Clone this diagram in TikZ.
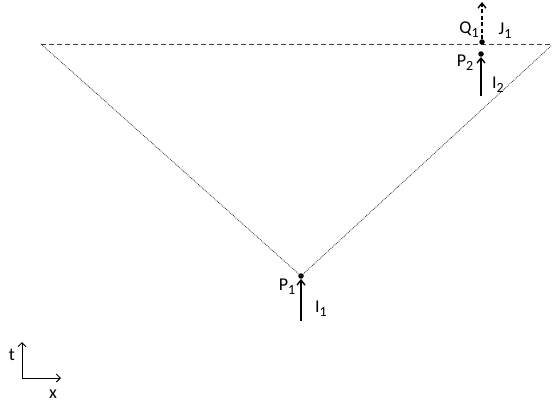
\documentclass[tikz,border=0pt]{standalone}
\usepackage{fontspec}
\setmainfont{Carlito}
\usetikzlibrary{arrows.meta,positioning}
\newcommand{\lowidx}[1]{\raisebox{-0.45ex}{\fontsize{14}{16}\selectfont #1}}

\begin{document}
\begin{tikzpicture}[
    x=1pt, y=-1pt,
    dot/.style={circle, fill=black, inner sep=0pt, minimum size=5.5pt},
    lbl/.style={font=\fontsize{18}{21}\selectfont, inner sep=0pt},
    arrow/.style={-{Straight Barb[length=5pt, width=8pt]}, line width=1.4pt},
    cone/.style={densely dotted, line width=0.8pt, black!80},
    horizon/.style={dashed, line width=0.8pt, black!75, dash pattern=on 5pt off 3pt},
]
    \useasboundingbox (0,0) rectangle (553,404);

    % light cone and horizontal line
    \coordinate (hl) at (41,44);
    \coordinate (hr) at (553,44);
    \coordinate (cr) at (551,46);
    \node[dot] (p1) at (301,276) {};
    \draw[horizon] (hl) -- (hr);
    \draw[cone] (hl) -- (p1.center) -- (cr);

    % lower point with incoming arrow
    \coordinate (i1) at (301,321);
    \draw[arrow] (i1) -- (p1);
    \node[lbl] (p1l) at (287,287) {P\lowidx{1}};
    \node[lbl] (i1l) at (321,309) {I\lowidx{1}};

    % upper points
    \node[dot] (p2) at (481,54) {};
    \node[dot] (q1) at (482,42) {};
    \coordinate (i2) at (481,96);
    \coordinate (j1) at (482,2);
    \draw[arrow] (i2) -- (p2);
    \draw[arrow, dashed, dash pattern=on 4pt off 2.5pt] (q1) -- (j1);
    \node[lbl] (q1l) at (469,30) {Q\lowidx{1}};
    \node[lbl] (j1l) at (505,31) {J\lowidx{1}};
    \node[lbl] (p2l) at (465,63) {P\lowidx{2}};
    \node[lbl] (i2l) at (498,85) {I\lowidx{2}};

    % axes
    \coordinate (o) at (22,378);
    \coordinate (ta) at (22,342);
    \coordinate (xa) at (61,378);
    \draw[-{Straight Barb[length=4pt, width=8pt]}, line width=1pt] (o) -- (ta);
    \draw[-{Straight Barb[length=4pt, width=8pt]}, line width=1pt] (o) -- (xa);
    \node[lbl] (tl) at (12,355) {t};
    \node[lbl] (xl) at (53,394) {x};
\end{tikzpicture}
\end{document}
